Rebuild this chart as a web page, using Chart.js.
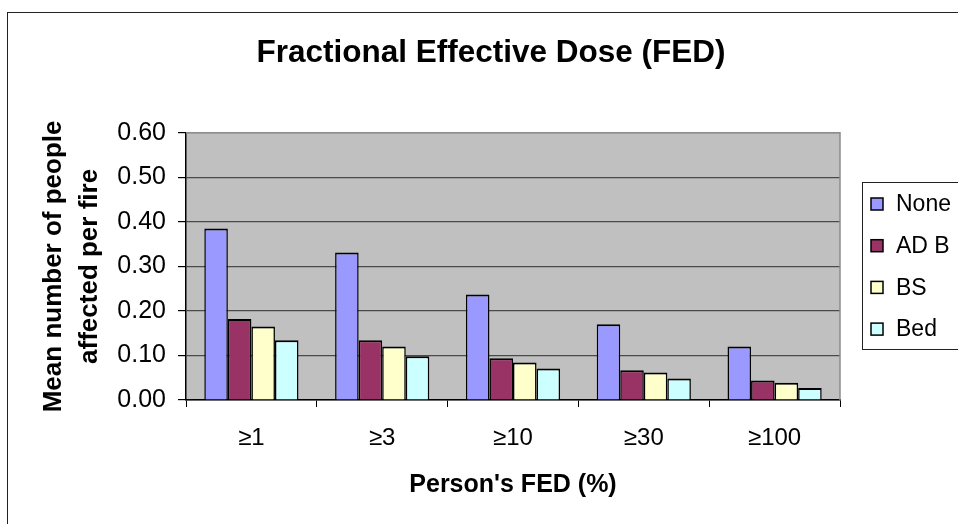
<!DOCTYPE html>
<html>
<head>
<meta charset="utf-8">
<script src="https://cdn.jsdelivr.net/npm/chart.js@4.4.1/dist/chart.umd.min.js"></script>
<style>
    html, body { margin: 0; padding: 0; overflow: hidden; background: #fff; }
    #wrap { width: 982px; height: 524px; }
</style>
</head>
<body>
<div id="wrap"><canvas id="fedChart" width="982" height="524"></canvas></div>
<script>
// Chart data
const categories = ['≥1', '≥3', '≥10', '≥30', '≥100'];
const seriesNames = ['None', 'AD B', 'BS', 'Bed'];
const noneValues = [0.385, 0.331, 0.237, 0.170, 0.120];
const adbValues = [0.182, 0.134, 0.094, 0.067, 0.044];
const bsValues = [0.165, 0.120, 0.084, 0.062, 0.039];
const bedValues = [0.134, 0.098, 0.071, 0.048, 0.027];
const yTicks = [0, 0.1, 0.2, 0.3, 0.4, 0.5, 0.6];

const colors = ['#9999ff', '#993366', '#ffffcc', '#ccffff'];
const FONT = "'Liberation Sans', Arial, sans-serif";

Chart.defaults.color = '#000';
Chart.defaults.font.family = FONT;

// Grey plot area, frame and outer border
const plotBackground = {
    id: 'plotBackground',
    beforeDraw(chart) {
        const { ctx, chartArea: a } = chart;
        ctx.save();
        ctx.fillStyle = '#c0c0c0';
        ctx.fillRect(a.left, a.top, a.right - a.left, a.bottom - a.top);
        ctx.restore();
    },
    afterDraw(chart) {
        const { ctx, chartArea: a } = chart;
        ctx.save();
        // plot border (top and right)
        ctx.strokeStyle = '#8c8c8c';
        ctx.lineWidth = 1.5;
        ctx.beginPath();
        ctx.moveTo(a.left, a.top);
        ctx.lineTo(a.right, a.top);
        ctx.lineTo(a.right, a.bottom);
        ctx.stroke();
        // outer chart border
        ctx.strokeStyle = '#222';
        ctx.lineWidth = 1;
        ctx.strokeRect(7.5, 12.5, 2000, 2000);
        ctx.restore();
    }
};

// Legend box on the right, partly cut off like the original
const boxLegend = {
    id: 'boxLegend',
    afterDraw(chart) {
        const { ctx } = chart;
        const left = 862, top = 182.5;
        ctx.save();
        ctx.strokeStyle = '#222';
        ctx.lineWidth = 1;
        ctx.strokeRect(left + 0.5, top, 200, 167);
        ctx.font = '23px ' + FONT;
        ctx.textBaseline = 'middle';
        chart.data.datasets.forEach((ds, i) => {
            const cy = 204 + i * 41.7;
            ctx.fillStyle = ds.backgroundColor;
            ctx.fillRect(871, cy - 6, 12, 12);
            ctx.strokeStyle = '#000';
            ctx.lineWidth = 1.5;
            ctx.strokeRect(871, cy - 6, 12, 12);
            ctx.fillStyle = '#000';
            ctx.fillText(ds.label, 896, cy + 1);
        });
        ctx.restore();
    }
};

const allValues = [noneValues, adbValues, bsValues, bedValues];

new Chart(document.getElementById('fedChart'), {
    type: 'bar',
    data: {
        labels: categories,
        datasets: seriesNames.map((name, i) => ({
            label: name,
            data: allValues[i],
            backgroundColor: colors[i],
            borderColor: '#000',
            borderWidth: { top: 2, left: 1.5, right: 1.5, bottom: 0 },
            borderSkipped: false,
            categoryPercentage: 0.72,
            barPercentage: 1
        }))
    },
    options: {
        responsive: false,
        animation: false,
        layout: { padding: 0 },
        plugins: {
            legend: { display: false },
            tooltip: { enabled: false },
            title: {
                display: true,
                text: 'Fractional Effective Dose (FED)',
                font: { size: 31.5, weight: 'bold' },
                padding: { top: 34, bottom: 61 }
            }
        },
        scales: {
            x: {
                grid: {
                    offset: true,
                    drawOnChartArea: false,
                    tickLength: 7,
                    tickColor: '#000',
                    tickWidth: 1
                },
                border: { color: '#000', width: 1.5 },
                ticks: { font: { size: 24 }, padding: 17 },
                title: {
                    display: true,
                    text: "Person's FED (%)",
                    font: { size: 25, weight: 'bold' },
                    padding: { top: 0, bottom: 24 }
                },
                afterFit(scale) { scale.height = 124; }
            },
            y: {
                min: 0,
                max: 0.6,
                afterBuildTicks(scale) {
                    scale.ticks = yTicks.map(v => ({ value: v }));
                },
                grid: {
                    color: ctx => ctx.index === yTicks.length - 1 ? '#8c8c8c' : '#4a4a4a',
                    lineWidth: 1.2,
                    tickLength: 8,
                    tickColor: '#000'
                },
                border: { color: '#000', width: 1.5 },
                ticks: {
                    font: { size: 25 },
                    padding: 12,
                    callback: v => Number(v).toFixed(2)
                },
                title: {
                    display: true,
                    text: ['Mean number of people', 'affected per fire'],
                    font: { size: 26, weight: 'bold', lineHeight: 1.385 },
                    padding: { top: 36, bottom: 0 }
                },
                afterFit(scale) { scale.width = 186; }
            },
            // empty axis that only reserves the space for the legend
            spacer: {
                type: 'linear',
                position: 'right',
                display: true,
                grid: { display: false },
                border: { display: false },
                ticks: { display: false },
                afterFit(scale) { scale.width = 142; }
            }
        }
    },
    plugins: [plotBackground, boxLegend]
});
</script>
</body>
</html>
